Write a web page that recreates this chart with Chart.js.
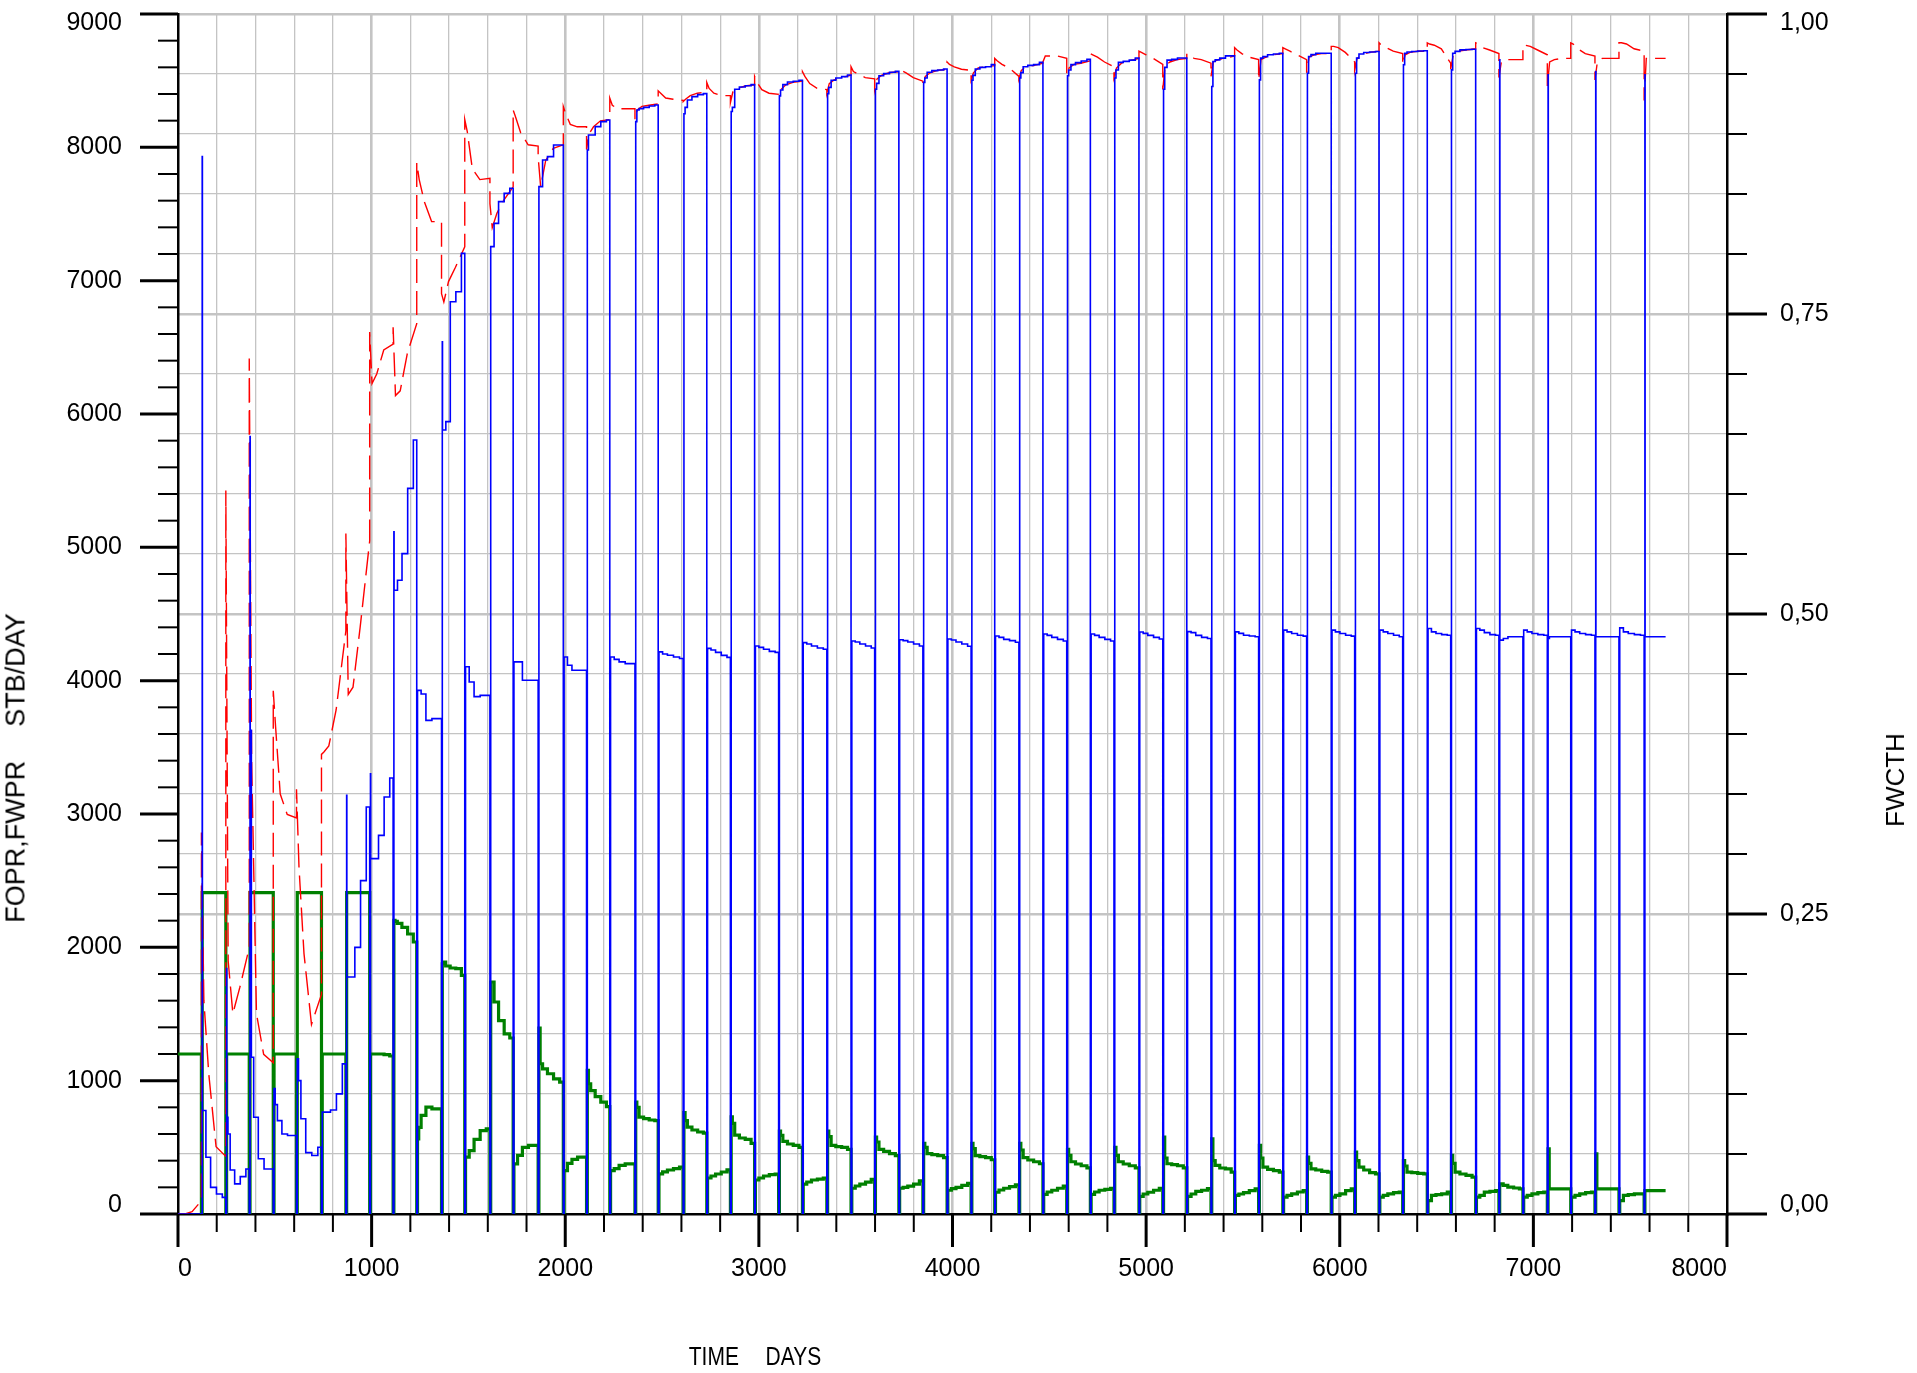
<!DOCTYPE html>
<html><head><meta charset="utf-8">
<script src="https://cdn.jsdelivr.net/npm/chart.js@4.4.1/dist/chart.umd.min.js"></script>
<style>
html,body{margin:0;padding:0;background:#fff;}
#wrap{position:relative;width:1917px;height:1373px;overflow:hidden;}
canvas{position:absolute;left:0;top:0;}
.t{position:absolute;font-family:'Liberation Sans',Arial,sans-serif;color:#000;white-space:pre;line-height:1;transform:translate(-50%,-50%);}
.rot{transform:translate(-50%,-50%) rotate(-90deg);}
.narrow{transform:translate(-50%,-50%) scaleX(0.84);}
</style></head><body>
<div id="wrap">
<canvas id="c" width="1917" height="1373"></canvas>
<div class="t rot" style="left:16px;top:768px;font-size:27px;word-spacing:1px;">FOPR,FWPR    STB/DAY</div>
<div class="t rot" style="left:1895px;top:780px;font-size:26px;">FWCTH</div>
<div class="t narrow" style="left:755px;top:1356px;font-size:25px;word-spacing:1px;">TIME    DAYS</div>
</div>
<script>
// ---- data: switching periods (days) ----
const periodStart = [0,121,247,368,492,612,741,867,990,1111,1233,1361,1481,1611,1731,1860,1990,2110,2230,2360,2480,2609,2731,2853,2978,3102,3225,3351,3476,3598,3723,3847,3972,4096,4218,4343,4467,4590,4712,4834,4963,5086,5210,5335,5457,5581,5706,5829,5956,6077,6203,6325,6452,6573,6702,6822,6946,7072,7193,7318,7442,7572];
const lastDay = 7683;
// fraction of each period at which the readings were taken
const readFrac = [0, 0.05, 0.15, 0.35, 0.6, 0.85];
const redFrac = [0, 0.1, 0.3, 0.6, 1];

// FWPR first-timestep spikes after each switch (STB/DAY, 0 = none)
const fwprSpike = [0,7931,1840,5830,0,0,0,3140,3302,5116, 0,6542,0,0,0,0,0,0,0,0, 0,0,0,0,0,0,0,0,0,0, 0,0,0,0,0,0,0,0,0,0, 0,0,0,0,0,0,0,0,0,0, 0,0,0,0,0,8656,0,8544,0,8569, 0,8544];

// FWPR readings per period (STB/DAY)
const fwprRead = [
[0,0,0,0,0,0],[776,776,426,200,150,125],[726,600,330,226,280,338],[3627,1176,726,414,338,338],
[940,820,700,600,589,589],[1164,1000,714,460,439,501],[764,764,764,780,901,1126],[1777,1777,1777,2000,2500,3052],
[2665,2665,2665,2840,3127,3270],[4678,4678,4753,4953,5442,5805],[3927,3927,3900,3702,3715,3715],[5880,5880,5943,6842,6917,7205],
[4104,4104,3990,3880,3890,3890],[7255,7255,7430,7593,7655,7693],[4141,4141,4141,4003,4003,4003],[7705,7705,7905,7930,8018,8018],
[4178,4178,4116,4078,4078,4078],[7980,8093,8093,8155,8193,8205],[4178,4178,4160,4141,4128,4128],[8193,8280,8290,8300,8310,8318],
[4216,4216,4200,4191,4178,4166],[8252,8300,8355,8380,8395,8403],[4242,4242,4230,4212,4190,4175],[8269,8300,8436,8453,8462,8470],
[4260,4260,4250,4236,4220,4212],[8386,8430,8470,8490,8496,8503],[4285,4285,4275,4260,4245,4236],[8403,8450,8503,8520,8530,8543],
[4298,4298,4290,4275,4260,4245],[8436,8480,8537,8553,8563,8570],[4307,4307,4300,4290,4275,4260],[8487,8520,8563,8575,8580,8587],
[4313,4313,4305,4290,4275,4258],[8503,8540,8587,8600,8604,8620],[4335,4335,4325,4310,4300,4288],[8520,8560,8604,8615,8620,8637],
[4350,4350,4340,4325,4310,4298],[8537,8580,8620,8635,8647,8660],[4350,4350,4340,4325,4310,4298],[8520,8580,8637,8645,8654,8670],
[4365,4365,4355,4340,4325,4313],[8436,8600,8654,8660,8670,8670],[4368,4368,4360,4340,4325,4316],[8456,8644,8656,8669,8686,8686],
[4366,4366,4355,4341,4335,4329],[8506,8669,8680,8694,8700,8706],[4379,4379,4366,4354,4341,4334],[8556,8681,8695,8706,8706,8706],
[4379,4379,4366,4354,4341,4334],[8556,8669,8700,8711,8715,8719],[4379,4379,4366,4354,4341,4329],[8619,8706,8715,8719,8722,8724],
[4391,4391,4366,4354,4345,4341],[8581,8706,8720,8731,8734,8736],[4391,4391,4379,4360,4345,4341],[4304,4304,4316,4329,4329,4329],
[4379,4379,4366,4354,4345,4341],[4316,4329,4329,4329,4329,4329],[4379,4379,4366,4354,4345,4341],[4329,4329,4329,4329,4329,4329],
[4396,4396,4366,4354,4345,4341],[4329,4329,4329,4329,4329,4329]
];

// FOPR readings per period (STB/DAY)
const foprRead = [
[1200,1200,1200,1200,1200,1200],[2410,2410,2410,2410,2410,2410],[1200,1200,1200,1200,1200,1200],[2410,2410,2410,2410,2410,2410],
[1200,1200,1200,1200,1200,1200],[2410,2410,2410,2410,2410,2410],[1200,1200,1200,1200,1200,1200],[2410,2410,2410,2410,2410,2410],
[1200,1200,1200,1200,1195,1185],[2202,2195,2180,2150,2100,2040],[564,650,739,801,789,789],[1877,1890,1860,1845,1840,1790],
[426,426,476,560,626,639],[1740,1740,1590,1450,1351,1320],[376,376,439,500,514,514],[1394,1127,1089,1052,1014,989],
[326,326,380,410,426,426],[1077,977,926,880,839,805],[326,326,340,364,376,376],[839,800,726,715,705,701],
[301,301,316,330,340,351],[760,700,652,630,615,607],[270,270,285,300,315,331],[729,680,591,570,560,530],
[255,255,270,285,295,300],[622,590,545,525,514,499],[224,224,240,255,262,270],[622,580,514,505,499,484],
[193,193,210,224,239,260],[576,540,484,470,453,438],[193,193,200,209,224,248],[530,500,453,445,438,423],
[178,178,190,200,215,230],[530,490,438,430,423,407],[163,163,180,193,205,218],[530,480,423,405,392,377],
[147,147,165,178,193,209],[484,440,392,375,362,346],[147,147,165,178,185,193],[499,440,392,375,362,346],
[132,132,150,163,178,193],[576,420,377,370,362,346],[132,132,150,169,178,190],[564,400,364,345,339,314],
[139,139,150,160,176,189],[514,420,351,335,326,314],[126,126,140,151,165,176],[426,380,339,330,320,314],
[126,126,140,151,176,189],[464,400,351,330,310,301],[126,126,139,151,160,164],[401,360,314,310,305,301],
[101,101,139,145,151,164],[439,380,314,300,289,276],[126,126,139,164,170,176],[226,226,215,201,195,189],
[126,126,139,151,160,164],[489,189,189,189,189,189],[126,126,139,151,160,164],[451,189,189,189,189,189],
[101,101,139,145,151,151],[176,176,176,176,176,176]
];

// FWCTH readings per period (fraction)
const fwcthRead = [
[0,0,0,0.002,0.011],[0.318,0.178,0.117,0.056,0.048],[0.603,0.211,0.167,0.189,0.222],[0.713,0.378,0.167,0.133,0.126],
[0.436,0.406,0.35,0.333,0.33],[0.354,0.289,0.217,0.158,0.183],[0.383,0.385,0.39,0.42,0.486],[0.567,0.433,0.439,0.489,0.561],
[0.735,0.692,0.7,0.72,0.725],[0.739,0.682,0.686,0.717,0.742],[0.876,0.862,0.844,0.827,0.827],[0.767,0.76,0.777,0.789,0.806],
[0.912,0.902,0.871,0.862,0.863],[0.842,0.822,0.834,0.845,0.856],[0.92,0.914,0.901,0.891,0.89],[0.881,0.856,0.878,0.888,0.891],
[0.923,0.917,0.908,0.906,0.906],[0.887,0.9,0.906,0.911,0.912],[0.93,0.924,0.921,0.921,0.921],[0.912,0.92,0.923,0.924,0.925],
[0.936,0.934,0.93,0.929,0.928],[0.927,0.929,0.932,0.934,0.935],[0.943,0.938,0.934,0.932,0.932],[0.926,0.935,0.938,0.94,0.941],
[0.948,0.943,0.937,0.934,0.933],[0.932,0.937,0.941,0.943,0.944],[0.952,0.948,0.942,0.938,0.937],[0.934,0.942,0.945,0.947,0.949],
[0.956,0.952,0.95,0.947,0.946],[0.937,0.946,0.949,0.951,0.952],[0.954,0.953,0.951,0.947,0.944],[0.941,0.948,0.951,0.953,0.954],
[0.96,0.958,0.956,0.954,0.953],[0.945,0.951,0.955,0.956,0.957],[0.963,0.961,0.958,0.955,0.948],[0.946,0.953,0.956,0.957,0.959],
[0.96,0.965,0.965,0.965,0.963],[0.949,0.955,0.958,0.959,0.961],[0.967,0.966,0.964,0.96,0.956],[0.947,0.955,0.959,0.961,0.963],
[0.969,0.968,0.966,0.963,0.958],[0.937,0.957,0.96,0.962,0.963],[0.967,0.966,0.963,0.962,0.959],[0.948,0.96,0.962,0.963,0.965],
[0.972,0.97,0.967,0.964,0.962],[0.945,0.962,0.964,0.966,0.967],[0.972,0.971,0.969,0.966,0.962],[0.951,0.964,0.966,0.967,0.967],
[0.973,0.973,0.972,0.968,0.96],[0.953,0.963,0.966,0.968,0.969],[0.976,0.974,0.972,0.969,0.967],[0.958,0.966,0.968,0.969,0.969],
[0.976,0.975,0.974,0.971,0.959],[0.954,0.966,0.969,0.97,0.971],[0.976,0.975,0.972,0.97,0.967],[0.947,0.96,0.962,0.962,0.962],
[0.974,0.974,0.973,0.97,0.966],[0.94,0.96,0.962,0.963,0.963],[0.976,0.975,0.971,0.967,0.965],[0.945,0.96,0.963,0.963,0.963],
[0.976,0.976,0.975,0.971,0.969],[0.928,0.963,0.963,0.963,0.963]
];

// tick labels
const xTickLabels = ['0','1000','2000','3000','4000','5000','6000','7000','8000'];
const leftTickLabels = ['0','1000','2000','3000','4000','5000','6000','7000','8000','9000'];
const rightTickLabels = ['0,00','0,25','0,50','0,75','1,00'];

// ---- build series from the readings ----
const ZERO_GAP = 4;
function periodEnd(k){ return k + 1 < periodStart.length ? periodStart[k + 1] : lastDay; }
function rateSeries(read, spike){
  const pts = [];
  read.forEach((vals, k) => {
    const s = periodStart[k], e = periodEnd(k);
    let t = s;
    if (k > 0) { pts.push({x: s, y: 0}); t = s + ZERO_GAP; }
    if (spike && spike[k]) { pts.push({x: t, y: spike[k]}); t += 1; }
    vals.forEach((v, j) => pts.push({x: t + readFrac[j] * (e - t), y: v}));
  });
  const lastVals = read[read.length - 1];
  pts.push({x: lastDay, y: lastVals[lastVals.length - 1]});
  return pts;
}
function ratioSeries(read){
  const pts = [];
  read.forEach((vals, k) => {
    const s = periodStart[k], e = periodEnd(k);
    vals.forEach((v, j) => pts.push({x: s + redFrac[j] * (e - s), y: v}));
  });
  return pts;
}
// end labels are nudged inward, as in the original plot
function edgeLabel(text, idx, count){
  if (idx === count - 1) return ['', text];
  if (idx === 0) return [text, ''];
  return text;
}

const FONT = "'Liberation Sans', Arial, sans-serif";
Chart.defaults.font.family = FONT;
Chart.defaults.font.size = 25;
Chart.defaults.color = '#000';

const GRID = '#c4c4c4';
const tickMarks = {
  id: 'tickMarks',
  afterDraw(chart){
    const {ctx, chartArea: a, scales} = chart;
    ctx.save();
    ctx.strokeStyle = '#000';
    const seg = (x1, y1, x2, y2, w) => { ctx.lineWidth = w; ctx.beginPath(); ctx.moveTo(x1, y1); ctx.lineTo(x2, y2); ctx.stroke(); };
    for (let v = 0; v <= 9000; v += 200) {
      const p = scales.y.getPixelForValue(v); const M = v % 1000 === 0;
      seg(a.left - (M ? 38 : 20), p, a.left, p, M ? 3 : 2);
    }
    for (let i = 0; i <= 20; i++) {
      const p = scales.y2.getPixelForValue(i / 20); const M = i % 5 === 0;
      seg(a.right, p, a.right + (M ? 40 : 20), p, M ? 3 : 2);
    }
    for (let d = 0; d <= 8000; d += 200) {
      const p = scales.x.getPixelForValue(d); const M = d % 1000 === 0;
      seg(p, a.bottom, p, a.bottom + (M ? 33 : 18), M ? 3 : 2);
    }
    ctx.restore();
  }
};

new Chart(document.getElementById('c'), {
  type: 'line',
  data: {
    datasets: [
      { label: 'FWPR', data: rateSeries(fwprRead, fwprSpike), borderColor: '#0000ff', borderWidth: 1.6, stepped: true, pointRadius: 0, yAxisID: 'y' },
      { label: 'FWCTH', data: ratioSeries(fwcthRead), borderColor: '#ff0000', borderWidth: 1.4, borderDash: [24, 8], pointRadius: 0, tension: 0, yAxisID: 'y2' },
      { label: 'FOPR', data: rateSeries(foprRead, null), borderColor: '#008000', borderWidth: 3.2, stepped: true, pointRadius: 0, yAxisID: 'y' }
    ]
  },
  options: {
    responsive: false,
    animation: false,
    devicePixelRatio: 1,
    parsing: false,
    layout: { padding: { top: 14, left: 0, right: 0, bottom: 0 } },
    plugins: { legend: { display: false }, tooltip: { enabled: false } },
    scales: {
      x: {
        type: 'linear', min: 0, max: 8000,
        afterFit(s){ s.height = 159; s.paddingLeft = 0; s.paddingRight = 0; },
        ticks: { stepSize: 200, autoSkip: false, maxRotation: 0, minRotation: 0, align: 'inner', padding: 40, maxTicksLimit: 100,
                 callback: v => (v % 1000 === 0 ? xTickLabels[Math.round(v / 1000)] : '') },
        grid: { drawTicks: false,
                color: c => (c.tick && (c.tick.value === 0 || c.tick.value === 8000)) ? 'rgba(0,0,0,0)' : GRID,
                lineWidth: c => (c.tick && c.tick.value % 1000 === 0) ? 2.6 : 1.3 },
        border: { display: true, color: '#000', width: 2.5 }
      },
      y: {
        position: 'left', min: 0, max: 9000,
        afterFit(s){ s.width = 178; s.paddingTop = 0; s.paddingBottom = 0; },
        ticks: { stepSize: 1000, autoSkip: false, padding: 56, font: { size: 25, lineHeight: 0.7 },
                 callback: v => { const i = Math.round(v / 1000); return edgeLabel(leftTickLabels[i], i, leftTickLabels.length); } },
        grid: { display: false, drawTicks: false },
        border: { display: true, color: '#000', width: 2.5 }
      },
      y2: {
        position: 'right', min: 0, max: 1,
        afterFit(s){ s.width = 190; s.paddingTop = 0; s.paddingBottom = 0; },
        ticks: { stepSize: 0.05, autoSkip: false, padding: 53, maxTicksLimit: 100, font: { size: 25, lineHeight: 0.7 },
                 callback: v => { const q = v * 4; if (Math.abs(q - Math.round(q)) > 1e-6) return ''; const i = Math.round(q); return edgeLabel(rightTickLabels[i], i, rightTickLabels.length); } },
        grid: { drawTicks: false,
                color: c => (c.tick && c.tick.value < 1e-6) ? 'rgba(0,0,0,0)' : GRID,
                lineWidth: c => { if (!c.tick) return 1.3; const q = c.tick.value * 4; return Math.abs(q - Math.round(q)) < 1e-6 ? 2.6 : 1.3; } },
        border: { display: true, color: '#000', width: 2.5 }
      }
    }
  },
  plugins: [tickMarks]
});
</script>
</body></html>
